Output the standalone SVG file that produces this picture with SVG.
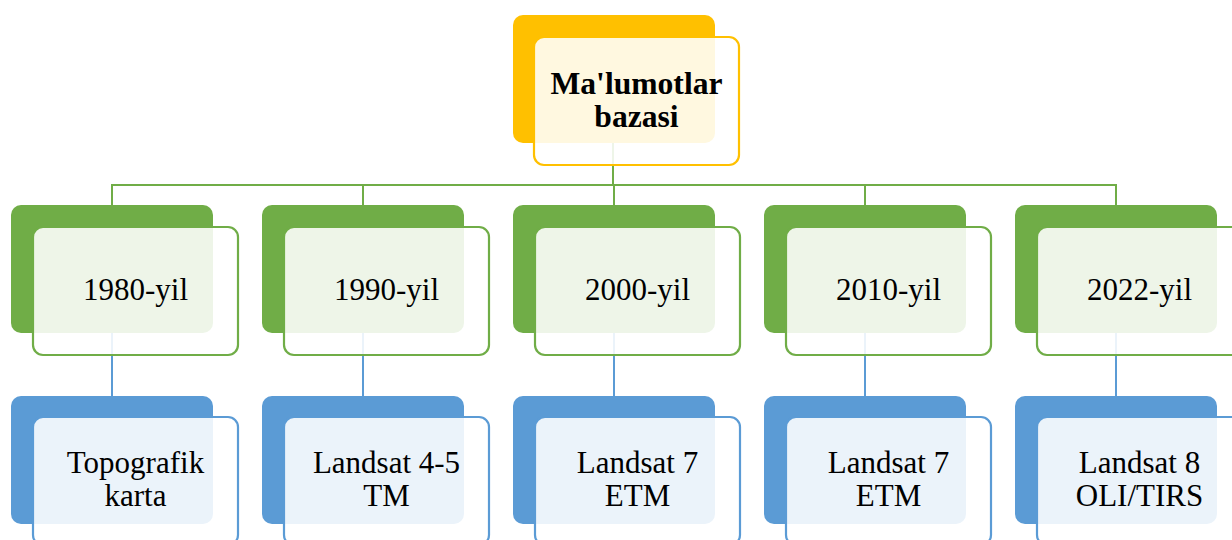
<svg xmlns="http://www.w3.org/2000/svg" width="1232" height="540" viewBox="0 0 1232 540">
<style>
.t{font-family:"Liberation Serif","Times New Roman",serif;font-size:31px;fill:#000;text-anchor:middle}
.b{font-weight:bold;font-size:31.6px}
.bg{stroke:none}
.fr{fill:#fff;fill-opacity:0.88;stroke-width:2.2}
.gold .bg{fill:#FFC000}.gold .fr{stroke:#FFC000}
.grn .bg{fill:#70AD47}.grn .fr{stroke:#70AD47}
.blu .bg{fill:#5B9BD5}.blu .fr{stroke:#5B9BD5}
.cg{stroke:#70AD47;stroke-width:2;fill:none}
.cb{stroke:#5B9BD5;stroke-width:2;fill:none}
</style>
<rect width="1232" height="540" fill="#fff"/>
<g id="connectors">
<path class="cg" d="M613 143V185M112 185H1116M112 184V206M363 184V206M614 184V206M865 184V206M1116 184V206"/>
<path class="cb" d="M112 332V397M363 332V397M614 332V397M865 332V397M1116 332V397"/>
</g>
<g id="root" class="gold">
<rect class="bg" x="513" y="15" width="202" height="128" rx="10"/>
<rect class="fr" x="534" y="37" width="205" height="128" rx="10"/>
<text class="t b" x="636.5" y="94">Ma'lumotlar</text>
<text class="t b" x="636.5" y="127">bazasi</text>
</g>
<g id="y1980" class="grn">
<rect class="bg" x="11" y="205" width="202" height="128" rx="10"/>
<rect class="fr" x="33" y="227" width="205" height="128" rx="10"/>
<text class="t" x="135.5" y="300">1980-yil</text>
</g>
<g id="y1990" class="grn">
<rect class="bg" x="262" y="205" width="202" height="128" rx="10"/>
<rect class="fr" x="284" y="227" width="205" height="128" rx="10"/>
<text class="t" x="386.5" y="300">1990-yil</text>
</g>
<g id="y2000" class="grn">
<rect class="bg" x="513" y="205" width="202" height="128" rx="10"/>
<rect class="fr" x="535" y="227" width="205" height="128" rx="10"/>
<text class="t" x="637.5" y="300">2000-yil</text>
</g>
<g id="y2010" class="grn">
<rect class="bg" x="764" y="205" width="202" height="128" rx="10"/>
<rect class="fr" x="786" y="227" width="205" height="128" rx="10"/>
<text class="t" x="888.5" y="300">2010-yil</text>
</g>
<g id="y2022" class="grn">
<rect class="bg" x="1015" y="205" width="202" height="128" rx="10"/>
<rect class="fr" x="1037" y="227" width="205" height="128" rx="10"/>
<text class="t" x="1139.5" y="300">2022-yil</text>
</g>
<g id="s1980" class="blu">
<rect class="bg" x="11" y="396" width="202" height="128" rx="10"/>
<rect class="fr" x="33" y="417" width="205" height="128" rx="10"/>
<text class="t" x="135.5" y="473">Topografik</text>
<text class="t" x="135.5" y="506">karta</text>
</g>
<g id="s1990" class="blu">
<rect class="bg" x="262" y="396" width="202" height="128" rx="10"/>
<rect class="fr" x="284" y="417" width="205" height="128" rx="10"/>
<text class="t" x="386.5" y="473">Landsat 4-5</text>
<text class="t" x="386.5" y="506">TM</text>
</g>
<g id="s2000" class="blu">
<rect class="bg" x="513" y="396" width="202" height="128" rx="10"/>
<rect class="fr" x="535" y="417" width="205" height="128" rx="10"/>
<text class="t" x="637.5" y="473">Landsat 7</text>
<text class="t" x="637.5" y="506">ETM</text>
</g>
<g id="s2010" class="blu">
<rect class="bg" x="764" y="396" width="202" height="128" rx="10"/>
<rect class="fr" x="786" y="417" width="205" height="128" rx="10"/>
<text class="t" x="888.5" y="473">Landsat 7</text>
<text class="t" x="888.5" y="506">ETM</text>
</g>
<g id="s2022" class="blu">
<rect class="bg" x="1015" y="396" width="202" height="128" rx="10"/>
<rect class="fr" x="1037" y="417" width="205" height="128" rx="10"/>
<text class="t" x="1139.5" y="473">Landsat 8</text>
<text class="t" x="1139.5" y="506">OLI/TIRS</text>
</g>
</svg>
